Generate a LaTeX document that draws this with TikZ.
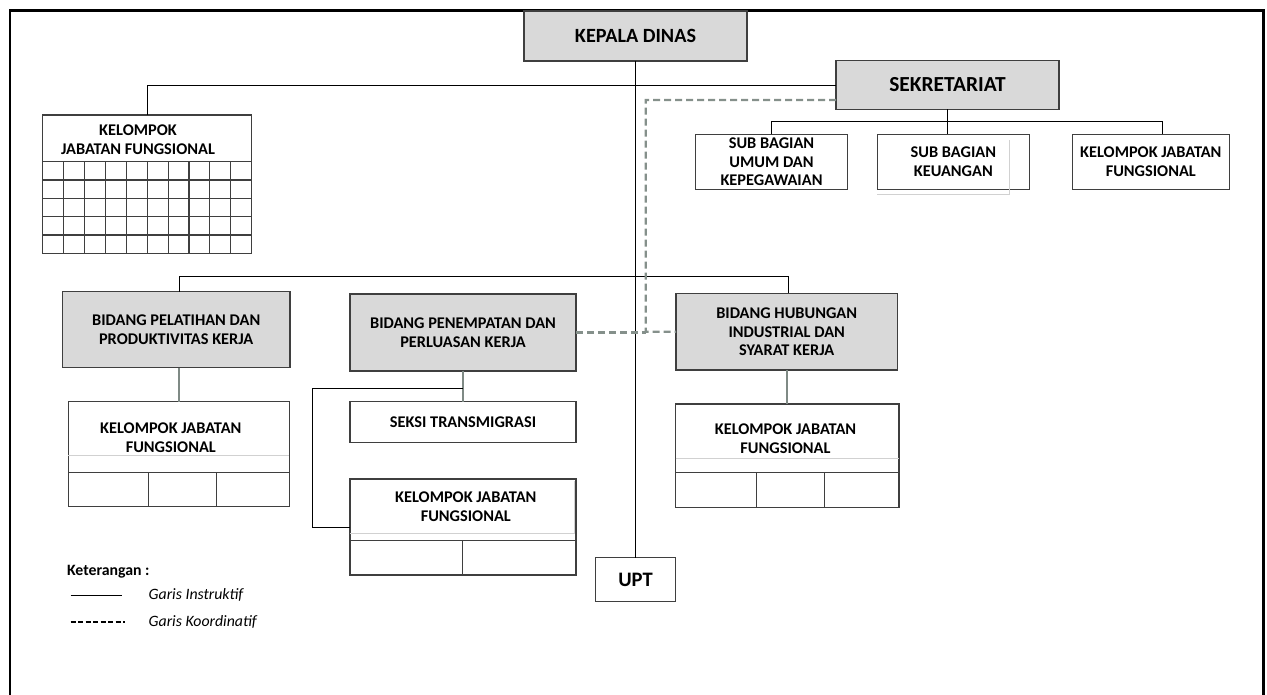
\documentclass[tikz,border=0pt]{standalone}
\usepackage{fontspec}
\setmainfont{Carlito}
\usepackage{tikz}
\usetikzlibrary{calc}
\definecolor{kotak}{HTML}{D9D9D9}
\definecolor{tepi}{HTML}{3F3F3F}
\definecolor{koord}{HTML}{85908B}
\definecolor{garisab}{HTML}{7F8A85}
\newcommand{\isibox}{\fontsize{9.3}{10.7}\selectfont\bfseries}
\newcommand{\ketfont}{\fontsize{9}{11}\selectfont}
\tikzset{
  ukuran/.style 2 args={minimum width=#1*0.02cm,minimum height=#2*0.02cm},
  boks/.style={draw=tepi,line width=0.7pt,inner sep=0pt,outer sep=0pt,align=center,font=\isibox},
  bidang/.style={boks,fill=kotak},
  teks/.style={inner sep=0pt,align=center,font=\isibox},
  instruktif/.style={line width=0.5pt},
  koordinatif/.style={draw=koord,line width=1.2pt,dash pattern=on 0.14cm off 0.08cm},
  cabang/.style={draw=garisab,line width=1.1pt},
  hantu/.style={draw=black!18,line width=0.4pt},
  sekat/.style={draw=tepi,line width=0.6pt}
}

\begin{document}
\begin{tikzpicture}[x=0.02cm,y=-0.02cm]
  \useasboundingbox (0,0) rectangle (1267,695);
  \draw[line width=1.7pt] (10,720) -- (10,11) -- (1263,11) -- (1263,720);

  \node[bidang,ukuran={223}{50},font=\fontsize{11.5}{13}\selectfont\bfseries] (kadis) at (635.5,36) {KEPALA DINAS};
  \node[bidang,ukuran={223}{48.6},font=\fontsize{12.2}{14}\selectfont\bfseries] (sekre) at (947.5,85) {SEKRETARIAT};
  \node[boks,ukuran={152.4}{55}] (umum) at (771.5,161.8) {SUB BAGIAN\\UMUM DAN\\KEPEGAWAIAN};
  \node[boks,ukuran={152}{55}] (keu) at (953.3,161.8) {SUB BAGIAN\\KEUANGAN};
  \node[boks,ukuran={157}{55}] (kjfs) at (1150.8,161.8) {KELOMPOK JABATAN\\FUNGSIONAL};

  \node[boks,ukuran={209}{138.3}] (kjfa) at (147.2,184.2) {};
  \node[teks] (kjfatxt) at (138,140) {KELOMPOK\\JABATAN FUNGSIONAL};
  \foreach \i in {0,...,4}
    \draw[sekat] (42.7,161.7+\i*18.32) -- (251.7,161.7+\i*18.32);
  \foreach \i in {1,...,9}
    \draw[sekat] (42.7+\i*20.9,161.7) -- (42.7+\i*20.9,253.3);

  \node[bidang,ukuran={227.7}{76}] (pel) at (176.2,329.7) {BIDANG PELATIHAN DAN\\PRODUKTIVITAS KERJA};
  \node[bidang,ukuran={226}{77}] (pen) at (463,332.5) {BIDANG PENEMPATAN DAN\\PERLUASAN KERJA};
  \node[bidang,ukuran={221.3}{76.7}] (hub) at (786.7,331.7) {BIDANG HUBUNGAN\\INDUSTRIAL DAN\\SYARAT KERJA};

  \node[boks,ukuran={221}{105}] (kjfl) at (178.8,454.2) {};
  \node[teks] (kjfltxt) at (170.8,438) {KELOMPOK JABATAN\\FUNGSIONAL};
  \draw[hantu] (68.3,455.7) -- (289.3,455.7);
  \draw[sekat] (68.3,472.3) -- (289.3,472.3);
  \draw[sekat] (148.3,472.3) -- (148.3,506.7);
  \draw[sekat] (216.7,472.3) -- (216.7,506.7);

  \node[boks,ukuran={226}{40.6}] (seksi) at (463,422) {SEKSI TRANSMIGRASI};
  \node[boks,ukuran={226}{96}] (kjfm) at (463,527) {};
  \node[teks] (kjfmtxt) at (465.8,506.7) {KELOMPOK JABATAN\\FUNGSIONAL};
  \draw[hantu] (350,533.3) -- (574,533.3) -- (574,481);
  \draw[sekat] (350,540.7) -- (576,540.7);
  \draw[sekat] (462.7,540.7) -- (462.7,575);

  \node[boks,ukuran={223.3}{103.3}] (kjfr) at (787.3,455.7) {};
  \node[teks] (kjfrtxt) at (785.5,439) {KELOMPOK JABATAN\\FUNGSIONAL};
  \draw[hantu] (675.7,458.3) -- (899,458.3);
  \draw[sekat] (675.7,472.3) -- (899,472.3);
  \draw[sekat] (756.7,472.3) -- (756.7,507.3);
  \draw[sekat] (824.3,472.3) -- (824.3,507.3);

  \draw[hantu] (877.3,194) -- (1009.3,194) -- (1009.3,140);

  \node[boks,ukuran={80}{44},font=\fontsize{11.7}{13}\selectfont\bfseries] (upt) at (635.5,579.7) {UPT};

  \draw[instruktif] (kjfa.north) |- (sekre.west);
  \draw[line width=1.1pt] (kadis.south) -- (upt.north);
  \draw[instruktif] (sekre.south) -- (sekre.south |- keu.north);
  \draw[instruktif] (umum.north) -- ++(0,-12.6) -| ([xshift=0.24cm]kjfs.north);
  \draw[instruktif] ([xshift=0.06cm]pel.north) -- ++(0,-15.7) -| ([xshift=0.03cm]hub.north);
  \draw[cabang] (pel.south -| kjfl.north) -- (kjfl.north);
  \draw[cabang] (pen.south) -- (seksi.north);
  \draw[cabang] (hub.south) -- (hub.south |- kjfr.north);
  \coordinate (tekuk) at (312.7,388.3);
  \draw[instruktif] (pen.south |- tekuk) -- (tekuk) |- (kjfm.west);

  \coordinate (kx) at (645.7,100);
  \draw[koordinatif] ([yshift=0.186cm]sekre.south west) -- (kx) |- (hub.west);
  \draw[koordinatif] (pen.east) -- (pen.east -| kx);

  \node[anchor=west,inner sep=0pt,font=\ketfont\bfseries] (ket) at (66.7,571.7) {Keterangan :};
  \node[anchor=west,inner sep=0pt,font=\ketfont\itshape] (gi) at (148.3,595) {Garis Instruktif};
  \node[anchor=west,inner sep=0pt,font=\ketfont\itshape] (gk) at (148.3,621.7) {Garis Koordinatif};
  \draw[line width=0.5pt] (70.7,595) -- (121.7,595);
  \draw[line width=1.1pt,dash pattern=on 0.1cm off 0.05cm] (70.7,621.7) -- (125,621.7);
\end{tikzpicture}
\end{document}
